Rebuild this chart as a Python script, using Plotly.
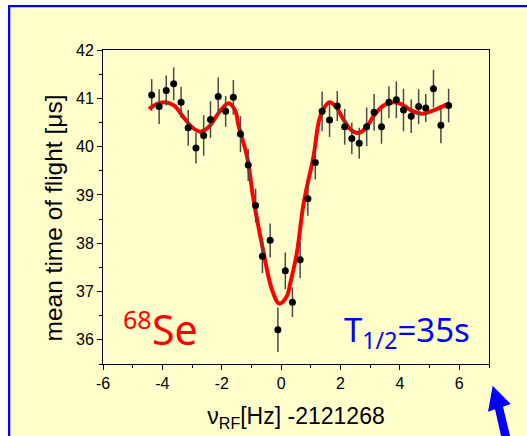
import plotly.graph_objects as go

# ---- data ----
freq = [-4.36, -4.11, -3.87, -3.62, -3.37, -3.13, -2.87, -2.61, -2.38, -2.12,
        -1.87, -1.61, -1.37, -1.11, -0.86, -0.63, -0.37, -0.11, 0.14, 0.38,
        0.64, 0.90, 1.15, 1.38, 1.63, 1.89, 2.14, 2.38, 2.63, 2.88,
        3.13, 3.38, 3.63, 3.88, 4.12, 4.38, 4.63, 4.87, 5.13, 5.38, 5.64]
tof = [41.07, 40.83, 41.16, 41.30, 40.92, 40.39, 39.97, 40.23, 40.56, 41.04,
       40.73, 41.02, 40.26, 39.62, 38.78, 37.73, 38.06, 36.21, 37.43, 36.78,
       37.66, 38.92, 39.67, 40.73, 40.55, 40.84, 40.41, 40.17, 40.07, 40.41,
       40.71, 40.41, 40.92, 40.97, 40.76, 40.63, 40.83, 40.80, 41.20, 40.44, 40.85]
tof_err = [0.33, 0.36, 0.31, 0.34, 0.32, 0.37, 0.32, 0.42, 0.38, 0.39,
           0.32, 0.36, 0.37, 0.33, 0.35, 0.35, 0.35, 0.46, 0.38, 0.31,
           0.38, 0.35, 0.35, 0.41, 0.35, 0.31, 0.37, 0.33, 0.32, 0.40,
           0.38, 0.35, 0.33, 0.38, 0.44, 0.35, 0.36, 0.29, 0.39, 0.37, 0.35]

fit_x = [-4.45, -4.2, -3.9, -3.6, -3.3, -3.0, -2.72, -2.45, -2.1, -1.77,
         -1.55, -1.43, -1.15, -0.93, -0.59, -0.31, -0.06, 0.19, 0.31, 0.53,
         0.75, 1.09, 1.32, 1.63, 1.85, 2.10, 2.35, 2.58, 2.85, 3.11,
         3.45, 3.78, 4.05, 4.35, 4.74, 5.13, 5.6]
fit_y = [40.78, 40.88, 40.92, 40.85, 40.62, 40.40, 40.31, 40.40, 40.70, 40.90,
         40.75, 40.42, 39.80, 38.90, 37.80, 37.04, 36.75, 36.90, 37.18, 37.80,
         38.80, 39.80, 40.63, 40.92, 40.82, 40.56, 40.35, 40.28, 40.38, 40.63,
         40.85, 40.92, 40.88, 40.76, 40.68, 40.75, 40.88]

x_tickvals = [-6, -4, -2, 0, 2, 4, 6]
x_ticktext = ["-6", "-4", "-2", "0", "2", "4", "6"]

# ---- layout geometry ----
W, H = 527, 436
L, R, T, B = 103, 38, 50, 72
BG = "#FFFFCC"
FONT = "Arial, Liberation Sans, sans-serif"


def px(x):
    return (x - L) / (W - L - R)


def py(y):
    return 1 - (y - T) / (H - T - B)


fig = go.Figure()
fig.add_trace(go.Scatter(x=fit_x, y=fit_y, mode="lines",
                         line=dict(color="#FF0000", width=4, shape="spline", smoothing=1.0),
                         hoverinfo="skip", showlegend=False))
fig.add_trace(go.Scatter(x=freq, y=tof, mode="markers",
                         marker=dict(color="black", size=7),
                         error_y=dict(type="data", array=tof_err, visible=True,
                                      color="#4a4a4a", thickness=1.5, width=0),
                         showlegend=False))

axis_common = dict(showline=True, linecolor="black", linewidth=1, mirror=True,
                   ticks="outside", ticklen=5, tickwidth=1, tickcolor="black",
                   showgrid=False, zeroline=False,
                   tickfont=dict(family=FONT, size=16, color="black"))

fig.update_xaxes(range=[-6, 7], tickmode="array", tickvals=x_tickvals, ticktext=x_ticktext,
                 minor=dict(dtick=1, tick0=0, ticks="outside", ticklen=3, tickcolor="black"),
                 title=dict(text="ν<sub>RF</sub>[Hz] -2121268",
                            font=dict(family=FONT, size=23, color="black"), standoff=16),
                 **axis_common)
fig.update_yaxes(range=[35.5, 42], tick0=0, dtick=1,
                 minor=dict(dtick=0.5, ticks="outside", ticklen=3, tickcolor="black"),
                 **axis_common)

# decorative frame: white outer strip, blue border lines, arrow
shapes = [
    dict(type="rect", xref="paper", yref="paper", x0=px(-2), x1=px(8), y0=py(440), y1=py(-2),
         fillcolor="white", line=dict(width=0)),
    dict(type="rect", xref="paper", yref="paper", x0=px(-2), x1=px(530), y0=py(5), y1=py(-2),
         fillcolor="white", line=dict(width=0)),
    dict(type="rect", xref="paper", yref="paper", x0=px(8), x1=px(10.3), y0=py(440), y1=py(5),
         fillcolor="#0000FF", line=dict(width=0)),
    dict(type="rect", xref="paper", yref="paper", x0=px(8), x1=px(530), y0=py(7.3), y1=py(5),
         fillcolor="#0000FF", line=dict(width=0)),
]
arrow_pts = [(492.7, 385.7), (510.7, 404), (503, 406.8), (511, 440), (502, 440), (495, 409.3), (488, 411.7)]
path = "M " + " L ".join(f"{px(a):.5f},{py(b):.5f}" for a, b in arrow_pts) + " Z"
shapes.append(dict(type="path", xref="paper", yref="paper", path=path,
                   fillcolor="#0000FF", line=dict(width=0)))

annotations = [
    dict(xref="paper", yref="paper", x=px(52.5), y=py(218), xanchor="center", yanchor="middle",
         text="mean time of flight [μs]", textangle=-90, showarrow=False,
         font=dict(family=FONT, size=24.5, color="black")),
    dict(xref="paper", yref="paper", x=px(120.5), y=py(318.5), xanchor="left", yanchor="middle",
         text="68", showarrow=False, font=dict(family="Noto Sans", size=25, color="#FF0000")),
    dict(xref="paper", yref="paper", x=px(150), y=py(329), xanchor="left", yanchor="middle",
         text="Se", showarrow=False, font=dict(family="Noto Sans", size=41, color="#FF0000")),
    dict(xref="paper", yref="paper", x=px(472), y=py(331), xanchor="right", yanchor="middle",
         text="T<sub>1/2</sub>=35s", showarrow=False,
         font=dict(family="Noto Sans", size=33, color="#0000FF")),
]

fig.update_layout(width=W, height=H, margin=dict(l=L, r=R, t=T, b=B),
                  paper_bgcolor=BG, plot_bgcolor=BG,
                  shapes=shapes, annotations=annotations, showlegend=False)

fig.write_html("out.html")
